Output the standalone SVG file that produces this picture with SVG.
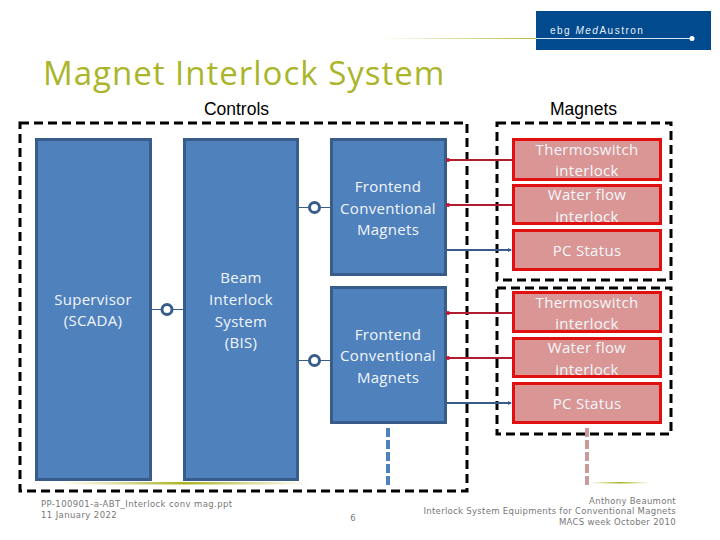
<svg xmlns="http://www.w3.org/2000/svg" width="720" height="540" viewBox="0 0 720 540">
<style>
.blue{fill:#4f81bd;stroke:#385d8a;stroke-width:3}
.red{fill:#d99694;stroke:#e01010;stroke-width:3}
.t{font-family:"Open Sans","Noto Sans",sans-serif;font-size:15px;fill:#f2f6fb;text-anchor:middle;letter-spacing:0.300px}
.h{font-family:"Liberation Sans",Arial,sans-serif;font-size:17.500px;fill:#000;text-anchor:middle}
.f{font-family:"DejaVu Sans",sans-serif;font-size:8.500px;fill:#777}
.dash{fill:none;stroke:#000;stroke-width:3;stroke-dasharray:9 5}
.cr{stroke:#b01c30;stroke-width:2;fill:none;marker-start:url(#dr)}
.cb{stroke:#385d8a;stroke-width:2;fill:none;marker-end:url(#db)}
.thin{stroke:#385d8a;stroke-width:1;fill:none}
.ring{fill:#fff;stroke:#385d8a;stroke-width:3}
</style>
<defs>
<marker id="dr" markerWidth="4" markerHeight="4" refX="2" refY="2" markerUnits="userSpaceOnUse"><circle cx="2" cy="2" r="2" fill="#c8102e"/></marker>
<marker id="db" markerWidth="4" markerHeight="4" refX="3" refY="2" markerUnits="userSpaceOnUse"><path d="M0 0L4 2L0 4Z" fill="#385d8a"/></marker>
<linearGradient id="g1"><stop offset="0" stop-color="#b5bd3a" stop-opacity="0"/><stop offset="0.5" stop-color="#a8b020"/><stop offset="1" stop-color="#b5bd3a" stop-opacity="0"/></linearGradient>
<linearGradient id="g2"><stop offset="0" stop-color="#b5bd3a" stop-opacity="0"/><stop offset="1" stop-color="#b5bd3a"/></linearGradient>
</defs>

<rect x="536" y="11" width="175" height="39" fill="#004a8d"/>
<rect x="380" y="38" width="156" height="1" fill="url(#g2)"/>
<line x1="536" y1="38.500" x2="692" y2="38.500" stroke="#d5e4f2" stroke-width="1"/>
<circle cx="692" cy="38.500" r="2.500" fill="#fff"/>
<text x="550" y="34" font-family="Liberation Sans,sans-serif" font-size="10" fill="#e8eff6" letter-spacing="1.500">ebg <tspan font-style="italic">Med</tspan>Austron</text>
<text x="43" y="85" font-family="Open Sans,Noto Sans,sans-serif" font-size="33" fill="#aab52a" letter-spacing="1">Magnet Interlock System</text>

<text class="h" x="236.500" y="114.500">Controls</text>
<text class="h" x="583.500" y="114.500">Magnets</text>

<rect x="60" y="482" width="250" height="2.500" fill="url(#g1)"/>
<rect x="590" y="482" width="60" height="1.500" fill="url(#g1)"/>

<g id="controls-frame"><rect class="dash" x="20" y="123" width="447" height="368"/></g>
<g id="magnets-frame-1"><rect class="dash" x="497" y="123" width="174" height="157"/></g>
<g id="magnets-frame-2"><rect class="dash" x="497" y="288" width="174" height="146"/></g>

<g id="supervisor"><rect class="blue" x="36.500" y="139.500" width="114" height="340"/>
<text class="t" x="93" y="305">Supervisor</text><text class="t" x="93" y="326">(SCADA)</text></g>
<g id="bis"><rect class="blue" x="184.500" y="139.500" width="113" height="340"/>
<text class="t" x="241" y="283">Beam</text><text class="t" x="241" y="305">Interlock</text><text class="t" x="241" y="327">System</text><text class="t" x="241" y="348">(BIS)</text></g>
<g id="frontend-1"><rect class="blue" x="331.500" y="139.500" width="114" height="135"/>
<text class="t" x="388" y="192">Frontend</text><text class="t" x="388" y="214">Conventional</text><text class="t" x="388" y="235">Magnets</text></g>
<g id="frontend-2"><rect class="blue" x="331.500" y="287.500" width="114" height="135"/>
<text class="t" x="388" y="340">Frontend</text><text class="t" x="388" y="361">Conventional</text><text class="t" x="388" y="383">Magnets</text></g>

<g id="thermo-1"><rect class="red" x="513.500" y="139.500" width="147" height="40"/>
<text class="t" x="587" y="155">Thermoswitch</text><text class="t" x="587" y="176">interlock</text></g>
<g id="water-1"><rect class="red" x="513.500" y="185.500" width="147" height="38"/>
<text class="t" x="587" y="200">Water flow</text><text class="t" x="587" y="222">interlock</text></g>
<g id="pc-1"><rect class="red" x="513.500" y="230.500" width="147" height="39"/>
<text class="t" x="587" y="256">PC Status</text></g>
<g id="thermo-2"><rect class="red" x="513.500" y="292.500" width="147" height="39"/>
<text class="t" x="587" y="308">Thermoswitch</text><text class="t" x="587" y="329">interlock</text></g>
<g id="water-2"><rect class="red" x="513.500" y="338.500" width="147" height="38"/>
<text class="t" x="587" y="353">Water flow</text><text class="t" x="587" y="375">interlock</text></g>
<g id="pc-2"><rect class="red" x="513.500" y="383.500" width="147" height="39"/>
<text class="t" x="587" y="409">PC Status</text></g>

<g id="connectors">
<line class="thin" x1="152" y1="309.500" x2="183" y2="309.500"/>
<circle class="ring" cx="167" cy="309.500" r="5"/>
<line class="thin" x1="299" y1="207.500" x2="330" y2="207.500"/>
<circle class="ring" cx="314.500" cy="207.500" r="5"/>
<line class="thin" x1="299" y1="360.500" x2="330" y2="360.500"/>
<circle class="ring" cx="314.500" cy="360.500" r="5"/>
<line class="cr" x1="448" y1="160" x2="512" y2="160"/>
<line class="cr" x1="448" y1="205" x2="512" y2="205"/>
<line class="cr" x1="448" y1="313" x2="512" y2="313"/>
<line class="cr" x1="448" y1="358" x2="512" y2="358"/>
<line class="cb" x1="447" y1="250" x2="511" y2="250"/>
<line class="cb" x1="447" y1="403" x2="511" y2="403"/>
<line x1="388" y1="428" x2="388" y2="486" stroke="#4f81bd" stroke-width="4" stroke-dasharray="9 3"/>
<line x1="587" y1="428" x2="587" y2="486" stroke="#c9999c" stroke-width="4" stroke-dasharray="9 3"/>
</g>

<text class="f" x="41" y="507" letter-spacing="0.400">PP-100901-a-ABT_Interlock conv mag.ppt</text>
<text class="f" x="41" y="518" letter-spacing="0.400">11 January 2022</text>
<text class="f" x="353" y="521" text-anchor="middle">6</text>
<text class="f" x="676" y="504" text-anchor="end" letter-spacing="0.300">Anthony Beaumont</text>
<text class="f" x="676" y="514" text-anchor="end" letter-spacing="0.300">Interlock System Equipments for Conventional Magnets</text>
<text class="f" x="676" y="525" text-anchor="end" letter-spacing="0.300">MACS week October 2010</text>
</svg>
